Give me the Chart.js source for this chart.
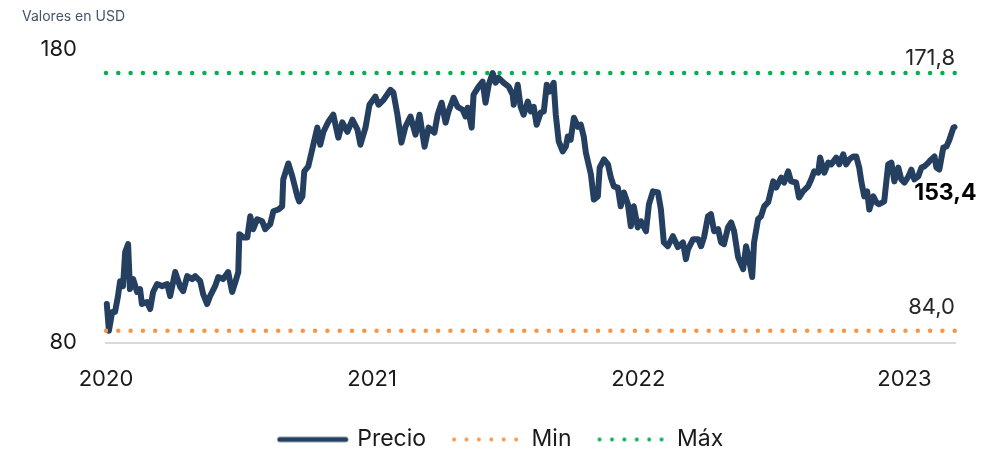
<!DOCTYPE html>
<html lang="es">
<head>
<meta charset="utf-8">
<title>Precio</title>
<script src="https://cdn.jsdelivr.net/npm/chart.js@4"></script>
<style>
  html, body { margin: 0; padding: 0; background: #fff; }
  #wrap { width: 988px; height: 451px; position: relative; }
</style>
</head>
<body>
<div id="wrap"><canvas id="grafico"></canvas></div>
<script>
// datos (anio fraccionario, precio en USD)
var anios = [
  2020.003, 2020.011, 2020.023, 2020.034, 2020.045, 2020.053, 2020.064, 2020.072, 2020.083, 2020.090,
  2020.102, 2020.117, 2020.128, 2020.135, 2020.154, 2020.166, 2020.177, 2020.192, 2020.211, 2020.230,
  2020.241, 2020.260, 2020.279, 2020.290, 2020.305, 2020.324, 2020.335, 2020.354, 2020.365, 2020.380,
  2020.391, 2020.410, 2020.422, 2020.440, 2020.459, 2020.474, 2020.486, 2020.497, 2020.501, 2020.516,
  2020.531, 2020.542, 2020.553, 2020.568, 2020.587, 2020.598, 2020.617, 2020.629, 2020.647, 2020.662,
  2020.666, 2020.685, 2020.700, 2020.719, 2020.726, 2020.738, 2020.745, 2020.760, 2020.779, 2020.794,
  2020.805, 2020.817, 2020.836, 2020.854, 2020.873, 2020.888, 2020.907, 2020.926, 2020.945, 2020.956,
  2020.975, 2020.990, 2021.012, 2021.024, 2021.043, 2021.069, 2021.080, 2021.095, 2021.110, 2021.125,
  2021.144, 2021.163, 2021.178, 2021.197, 2021.212, 2021.234, 2021.246, 2021.261, 2021.276, 2021.287,
  2021.306, 2021.321, 2021.340, 2021.351, 2021.359, 2021.374, 2021.381, 2021.400, 2021.415, 2021.426,
  2021.438, 2021.453, 2021.464, 2021.475, 2021.494, 2021.513, 2021.528, 2021.532, 2021.547, 2021.558,
  2021.569, 2021.585, 2021.596, 2021.607, 2021.618, 2021.633, 2021.645, 2021.656, 2021.667, 2021.682,
  2021.690, 2021.701, 2021.716, 2021.728, 2021.735, 2021.746, 2021.758, 2021.773, 2021.784, 2021.795,
  2021.803, 2021.822, 2021.833, 2021.848, 2021.855, 2021.871, 2021.886, 2021.897, 2021.908, 2021.923,
  2021.934, 2021.946, 2021.961, 2021.972, 2021.983, 2021.998, 2022.010, 2022.029, 2022.040, 2022.055,
  2022.074, 2022.085, 2022.096, 2022.111, 2022.130, 2022.149, 2022.168, 2022.179, 2022.187, 2022.206,
  2022.225, 2022.236, 2022.247, 2022.262, 2022.273, 2022.285, 2022.300, 2022.311, 2022.322, 2022.337,
  2022.349, 2022.360, 2022.375, 2022.394, 2022.405, 2022.416, 2022.428, 2022.435, 2022.450, 2022.461,
  2022.473, 2022.488, 2022.507, 2022.518, 2022.537, 2022.548, 2022.563, 2022.574, 2022.593, 2022.604,
  2022.619, 2022.638, 2022.650, 2022.661, 2022.676, 2022.683, 2022.699, 2022.714, 2022.725, 2022.744,
  2022.755, 2022.770, 2022.781, 2022.793, 2022.808, 2022.819, 2022.830, 2022.838, 2022.849, 2022.860,
  2022.868, 2022.883, 2022.894, 2022.905, 2022.924, 2022.939, 2022.951, 2022.962, 2022.977, 2022.988,
  2023.000, 2023.015, 2023.026, 2023.037, 2023.052, 2023.064, 2023.075, 2023.090, 2023.101, 2023.113,
  2023.120, 2023.131, 2023.146, 2023.158, 2023.169, 2023.184, 2023.188
];
var precio = [
  93.1, 84.0, 90.4, 90.4, 95.8, 100.9, 99.2, 110.8, 113.5, 98.2,
  101.6, 97.2, 98.2, 93.1, 93.8, 91.4, 97.2, 99.9, 99.2, 99.9,
  95.8, 104.0, 98.9, 97.5, 102.6, 101.6, 102.6, 100.9, 96.5, 93.1,
  95.8, 99.2, 102.3, 101.6, 104.0, 97.2, 100.6, 104.0, 116.9, 115.8,
  115.8, 123.0, 118.6, 122.0, 121.3, 118.6, 120.3, 124.7, 125.3, 126.4,
  135.6, 141.0, 136.6, 129.8, 128.1, 129.8, 138.3, 140.0, 147.4, 153.2,
  147.4, 151.8, 155.3, 157.6, 149.8, 155.0, 151.8, 155.9, 152.5, 147.4,
  153.2, 161.0, 163.8, 161.0, 162.7, 166.1, 165.1, 157.6, 148.1, 153.5,
  157.0, 150.8, 157.6, 146.7, 153.2, 151.5, 157.6, 161.7, 154.9, 158.7,
  163.4, 160.3, 159.3, 157.0, 160.0, 153.2, 164.4, 167.2, 168.9, 161.7,
  167.8, 171.8, 168.5, 170.2, 168.5, 167.2, 164.4, 161.0, 167.8, 160.3,
  157.6, 162.1, 158.7, 160.3, 154.2, 158.3, 158.7, 167.8, 165.5, 168.5,
  157.6, 148.5, 145.1, 146.8, 150.2, 149.1, 156.6, 153.5, 154.2, 150.2,
  144.7, 137.3, 128.7, 129.8, 139.6, 142.4, 140.7, 136.2, 133.2, 132.8,
  126.4, 131.1, 127.1, 119.6, 126.4, 119.2, 121.3, 117.9, 127.1, 131.5,
  131.1, 125.3, 114.1, 112.8, 116.2, 112.5, 114.1, 108.4, 111.8, 115.2,
  115.2, 112.8, 115.8, 123.0, 123.7, 117.9, 118.6, 114.1, 113.5, 119.2,
  120.9, 117.9, 109.1, 105.0, 112.8, 108.4, 102.3, 114.1, 122.0, 123.0,
  126.4, 127.8, 134.9, 132.8, 136.2, 134.5, 138.3, 134.9, 134.5, 129.4,
  131.5, 133.2, 135.6, 138.3, 137.9, 143.0, 137.9, 141.3, 140.7, 143.0,
  140.7, 144.1, 140.7, 142.4, 143.4, 143.4, 139.6, 134.9, 129.8, 131.5,
  125.3, 129.8, 127.8, 127.1, 128.1, 140.7, 141.3, 134.9, 139.6, 135.6,
  134.5, 136.6, 138.9, 135.6, 136.6, 139.6, 140.0, 141.3, 142.4, 143.4,
  139.6, 138.9, 146.4, 146.8, 149.1, 153.2, 153.4
];
var minimo = 84.0;
var maximo = 171.8;
var aniosEje = [2020, 2021, 2022, 2023];
var valoresEje = [80, 180];
var series = ["Precio", "Min", "Máx"];

var azul = "#253F61";
var naranja = "#F79646";
var verde = "#00B050";
var fuente = "Inter, 'DejaVu Sans', sans-serif";

var inicio = anios[0] - 0.003;
var fin = anios[anios.length - 1] + 0.002;

function formato(v) {
  return v.toFixed(1).replace(".", ",");
}

// muestra de linea para la leyenda
function muestra(color, punteado) {
  var c = document.createElement("canvas");
  c.width = 74;
  c.height = 8;
  var g = c.getContext("2d");
  g.strokeStyle = color;
  g.lineCap = "round";
  g.lineWidth = punteado ? 4 : 5;
  if (punteado) g.setLineDash([0, 12.4]);
  g.beginPath();
  g.moveTo(4, 4);
  g.lineTo(punteado ? 67 : 70, 4);
  g.stroke();
  return c;
}

var textos = {
  id: "textos",
  afterLayout: function (chart) {
    // la leyenda del original esta algo corrida a la derecha
    chart.legend.left += 24;
    chart.legend.right += 24;
  },
  afterDraw: function (chart) {
    var ctx = chart.ctx;
    var x = chart.scales.x;
    var y = chart.scales.y;
    var area = chart.chartArea;
    ctx.save();
    ctx.textBaseline = "middle";

    ctx.font = "14px " + fuente;
    ctx.fillStyle = "#44546A";
    ctx.textAlign = "left";
    ctx.fillText("Valores en USD", 22, 17);

    ctx.font = "22px " + fuente;
    ctx.fillStyle = "#262626";
    ctx.textAlign = "right";
    ctx.fillText(formato(maximo), area.right, y.getPixelForValue(maximo) - 15);
    ctx.fillText(formato(minimo), area.right, y.getPixelForValue(minimo) - 23);

    var ultimo = precio[precio.length - 1];
    ctx.font = "bold 23px " + fuente;
    ctx.fillStyle = "#000";
    ctx.fillText(formato(ultimo), x.getPixelForValue(anios[anios.length - 1]) + 22, y.getPixelForValue(ultimo) + 66);
    ctx.restore();
  }
};

var ctx = document.getElementById("grafico").getContext("2d");
var myChart = new Chart(ctx, {
  type: "line",
  data: {
    datasets: [
      {
        label: series[0],
        data: anios.map(function (a, i) { return { x: a, y: precio[i] }; }),
        borderColor: azul,
        borderWidth: 6,
        borderJoinStyle: "round",
        borderCapStyle: "round",
        pointRadius: 0,
        tension: 0,
        clip: false,
        order: 2,
      },
      {
        label: series[1],
        data: [{ x: inicio, y: minimo }, { x: fin, y: minimo }],
        borderColor: naranja,
        borderWidth: 4.5,
        borderDash: [0, 12.3],
        borderCapStyle: "round",
        pointRadius: 0,
        clip: false,
        order: 1,
      },
      {
        label: series[2],
        data: [{ x: inicio, y: maximo }, { x: fin, y: maximo }],
        borderColor: verde,
        borderWidth: 4.5,
        borderDash: [0, 12.3],
        borderCapStyle: "round",
        pointRadius: 0,
        clip: false,
        order: 0,
      },
    ],
  },
  options: {
    responsive: true,
    maintainAspectRatio: false,
    animation: false,
    layout: { padding: { top: 49, right: 33, bottom: -10, left: 0 } },
    scales: {
      x: {
        type: "linear",
        min: inicio,
        max: fin,
        grid: { display: false, drawTicks: false },
        border: { display: true, color: "#D9D9D9", width: 2 },
        afterBuildTicks: function (scale) {
          scale.ticks = aniosEje.map(function (v) { return { value: v }; });
        },
        afterFit: function (scale) { scale.height = 57.5; },
        ticks: {
          padding: 24,
          color: "#1A1A1A",
          font: { family: fuente, size: 22 },
          maxRotation: 0,
          callback: function (v) { return String(v); },
        },
      },
      y: {
        min: 80,
        max: 180,
        grid: { display: false, drawTicks: false },
        border: { display: false },
        afterBuildTicks: function (scale) {
          scale.ticks = valoresEje.map(function (v) { return { value: v }; });
        },
        afterFit: function (scale) { scale.width = 106; },
        ticks: {
          padding: 29,
          color: "#1A1A1A",
          font: { family: fuente, size: 22 },
        },
      },
    },
    plugins: {
      tooltip: { enabled: false },
      legend: {
        position: "bottom",
        labels: {
          usePointStyle: true,
          pointStyleWidth: 66,
          padding: 28,
          color: "#1A1A1A",
          font: { family: fuente, size: 23 },
          generateLabels: function (chart) {
            var colores = [azul, naranja, verde];
            return series.map(function (s, i) {
              return {
                text: s,
                datasetIndex: i,
                pointStyle: muestra(colores[i], i > 0),
                fillStyle: "transparent",
                strokeStyle: "transparent",
                lineWidth: 0,
                fontColor: "#1A1A1A",
                hidden: false,
              };
            });
          },
        },
      },
    },
  },
  plugins: [textos],
});
</script>
</body>
</html>
